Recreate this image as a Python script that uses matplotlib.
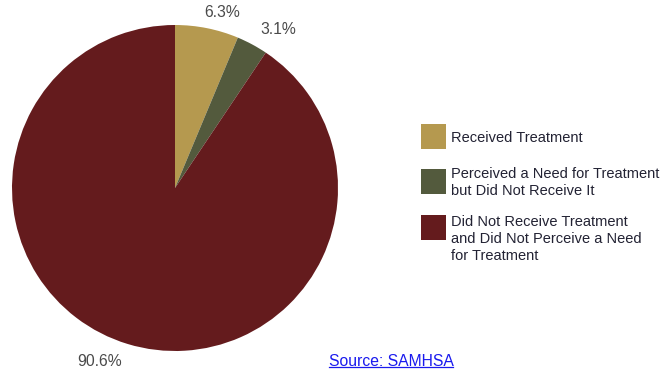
import matplotlib
matplotlib.use("Agg")
import matplotlib.pyplot as plt
from matplotlib.patches import Rectangle
from matplotlib.lines import Line2D

plt.rcParams['font.family'] = ['Liberation Sans', 'DejaVu Sans']

categories = [
    "Received Treatment",
    "Perceived a Need for Treatment\nbut Did Not Receive It",
    "Did Not Receive Treatment\nand Did Not Perceive a Need\nfor Treatment",
]
values = [6.3, 3.1, 90.6]
colors = ["#B5994F", "#535A3D", "#641B1D"]
source_text = "Source: SAMHSA"

W, H = 665, 371
fig = plt.figure(figsize=(W / 100, H / 100), dpi=100)

# pie: centre (175, 188) px, radius 163 px
cx, cy, r = 175, 188, 163
ax = fig.add_axes([(cx - r) / W, (H - cy - r) / H, 2 * r / W, 2 * r / H])
wedges, _ = ax.pie(values, colors=colors, startangle=90, counterclock=False,
                   radius=1.0, wedgeprops=dict(linewidth=0))
ax.set_xlim(-1, 1)
ax.set_ylim(-1, 1)
ax.set_aspect("equal")
ax.axis("off")

# percentage labels around the rim
label_pos = [(0.288, 1.074), (0.632, 0.975), (-0.46, -1.067)]
for v, (lx, ly) in zip(values, label_pos):
    ax.text(lx, ly, f"{v:.1f}%", ha="center", va="center", fontsize=11.3,
            color="#4a4a4a", clip_on=False)

# overlay in pixel coordinates for legend and source
ov = fig.add_axes([0, 0, 1, 1])
ov.set_xlim(0, W)
ov.set_ylim(H, 0)
ov.axis("off")
ov.patch.set_alpha(0)

patch_tops = [124, 169, 215]
text_tops = [137, 173, 221]
for col, lab, pt, tt in zip(colors, categories, patch_tops, text_tops):
    ov.add_patch(Rectangle((421, pt), 25, 25, facecolor=col, edgecolor="none"))
    ov.text(451, tt - 5.5, lab, ha="left", va="top", fontsize=10.5,
            color="#222233", linespacing=1.25)

src = ov.text(391, 361, source_text, ha="center", va="center", fontsize=11.3,
              color="#1a1aee")
fig.canvas.draw()
bb = src.get_window_extent()
inv = ov.transData.inverted()
(x0, y0), (x1, y1) = inv.transform([(bb.x0, bb.y0), (bb.x1, bb.y1)])
ov.add_line(Line2D([x0, x1], [y0 - 1.5, y0 - 1.5], color="#1a1aee", linewidth=0.9))

fig.savefig("out.png", dpi=100)
